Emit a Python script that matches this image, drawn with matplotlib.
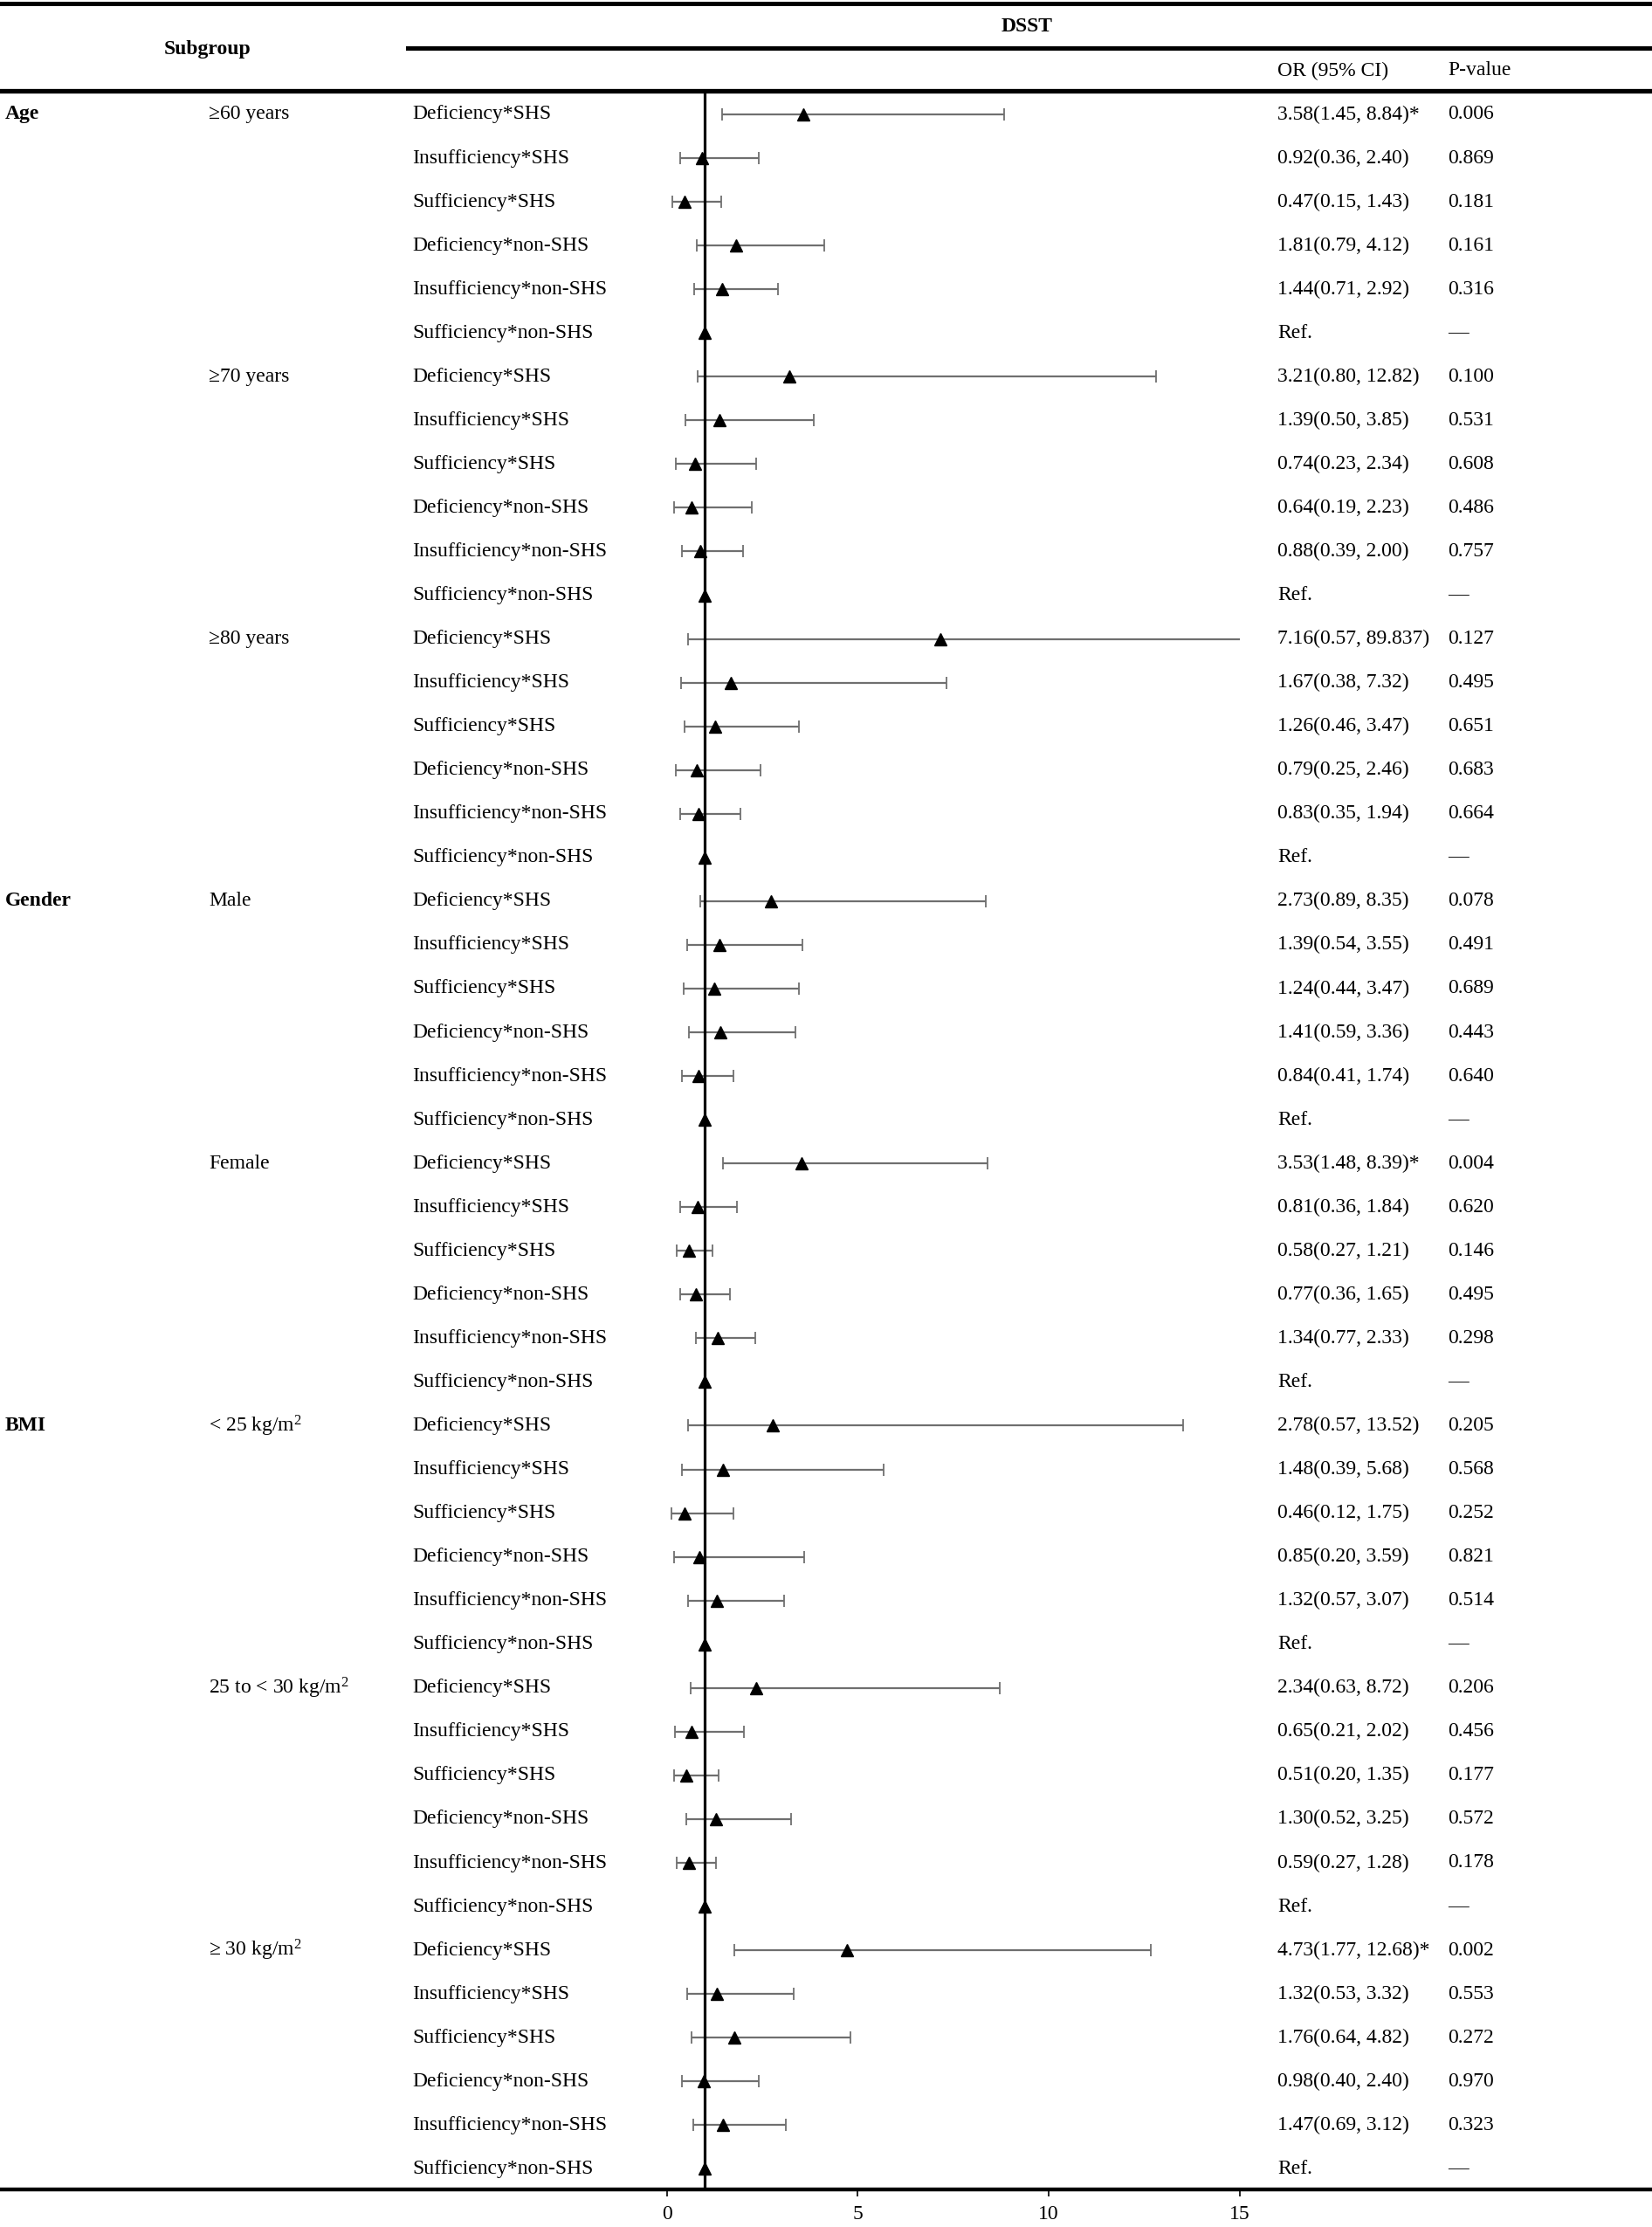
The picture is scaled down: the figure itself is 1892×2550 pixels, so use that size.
import matplotlib
matplotlib.use("Agg")
import matplotlib.pyplot as plt
import numpy as np
from matplotlib.transforms import blended_transform_factory

plt.rcParams['font.family'] = ['Liberation Serif', 'DejaVu Serif']
plt.rcParams['mathtext.fontset'] = 'custom'
plt.rcParams['mathtext.rm'] = 'Liberation Serif'
plt.rcParams['mathtext.it'] = 'Liberation Serif:italic'
plt.rcParams['mathtext.default'] = 'regular'

# ---------------- data ----------------
categories = ["Age", "Gender", "BMI"]
category_rows = [0, 18, 30]
subgroups = ["≥60 years", "≥70 years", "≥80 years", "Male", "Female",
             "< 25 kg/m$^2$", "25 to < 30 kg/m$^2$", "≥ 30 kg/m$^2$"]
row_labels = ["Deficiency*SHS", "Insufficiency*SHS", "Sufficiency*SHS",
              "Deficiency*non-SHS", "Insufficiency*non-SHS", "Sufficiency*non-SHS"]

or_vals = [3.58, 0.92, 0.47, 1.81, 1.44, 1.0,
           3.21, 1.39, 0.74, 0.64, 0.88, 1.0,
           7.16, 1.67, 1.26, 0.79, 0.83, 1.0,
           2.73, 1.39, 1.24, 1.41, 0.84, 1.0,
           3.53, 0.81, 0.58, 0.77, 1.34, 1.0,
           2.78, 1.48, 0.46, 0.85, 1.32, 1.0,
           2.34, 0.65, 0.51, 1.30, 0.59, 1.0,
           4.73, 1.32, 1.76, 0.98, 1.47, 1.0]
ci_low = [1.45, 0.36, 0.15, 0.79, 0.71, np.nan,
          0.80, 0.50, 0.23, 0.19, 0.39, np.nan,
          0.57, 0.38, 0.46, 0.25, 0.35, np.nan,
          0.89, 0.54, 0.44, 0.59, 0.41, np.nan,
          1.48, 0.36, 0.27, 0.36, 0.77, np.nan,
          0.57, 0.39, 0.12, 0.20, 0.57, np.nan,
          0.63, 0.21, 0.20, 0.52, 0.27, np.nan,
          1.77, 0.53, 0.64, 0.40, 0.69, np.nan]
ci_high = [8.84, 2.40, 1.43, 4.12, 2.92, np.nan,
           12.82, 3.85, 2.34, 2.23, 2.00, np.nan,
           89.837, 7.32, 3.47, 2.46, 1.94, np.nan,
           8.35, 3.55, 3.47, 3.36, 1.74, np.nan,
           8.39, 1.84, 1.21, 1.65, 2.33, np.nan,
           13.52, 5.68, 1.75, 3.59, 3.07, np.nan,
           8.72, 2.02, 1.35, 3.25, 1.28, np.nan,
           12.68, 3.32, 4.82, 2.40, 3.12, np.nan]
or_text = ["3.58(1.45, 8.84)*", "0.92(0.36, 2.40)", "0.47(0.15, 1.43)", "1.81(0.79, 4.12)", "1.44(0.71, 2.92)", "Ref.",
           "3.21(0.80, 12.82)", "1.39(0.50, 3.85)", "0.74(0.23, 2.34)", "0.64(0.19, 2.23)", "0.88(0.39, 2.00)", "Ref.",
           "7.16(0.57, 89.837)", "1.67(0.38, 7.32)", "1.26(0.46, 3.47)", "0.79(0.25, 2.46)", "0.83(0.35, 1.94)", "Ref.",
           "2.73(0.89, 8.35)", "1.39(0.54, 3.55)", "1.24(0.44, 3.47)", "1.41(0.59, 3.36)", "0.84(0.41, 1.74)", "Ref.",
           "3.53(1.48, 8.39)*", "0.81(0.36, 1.84)", "0.58(0.27, 1.21)", "0.77(0.36, 1.65)", "1.34(0.77, 2.33)", "Ref.",
           "2.78(0.57, 13.52)", "1.48(0.39, 5.68)", "0.46(0.12, 1.75)", "0.85(0.20, 3.59)", "1.32(0.57, 3.07)", "Ref.",
           "2.34(0.63, 8.72)", "0.65(0.21, 2.02)", "0.51(0.20, 1.35)", "1.30(0.52, 3.25)", "0.59(0.27, 1.28)", "Ref.",
           "4.73(1.77, 12.68)*", "1.32(0.53, 3.32)", "1.76(0.64, 4.82)", "0.98(0.40, 2.40)", "1.47(0.69, 3.12)", "Ref."]
p_text = ["0.006", "0.869", "0.181", "0.161", "0.316", "—",
          "0.100", "0.531", "0.608", "0.486", "0.757", "—",
          "0.127", "0.495", "0.651", "0.683", "0.664", "—",
          "0.078", "0.491", "0.689", "0.443", "0.640", "—",
          "0.004", "0.620", "0.146", "0.495", "0.298", "—",
          "0.205", "0.568", "0.252", "0.821", "0.514", "—",
          "0.206", "0.456", "0.177", "0.572", "0.178", "—",
          "0.002", "0.553", "0.272", "0.970", "0.323", "—"]
xticks = [0, 5, 10, 15]
x_max = 15

# ---------------- layout ----------------
W, H = 1892, 2550
x0px, pxper = 763.5, 43.75
row0, rowh = 131, 50.05

fig = plt.figure(figsize=(W / 100, H / 100), dpi=100)
ax = fig.add_axes([0, 0, 1, 1])
ax.set_xlim(-x0px / pxper, (W - x0px) / pxper)
ax.set_ylim((H - row0) / rowh, -row0 / rowh)


def py(p):
    return (p - row0) / rowh


trans = blended_transform_factory(fig.transFigure, ax.transData)
fs = 17

n = len(or_vals)
y = np.arange(n)
orv = np.array(or_vals)
lo = np.array(ci_low)
hi = np.array(ci_high)
has_ci = ~np.isnan(lo)

grey = '#6f6f6f'
full = has_ci & (hi <= x_max)
ax.errorbar(orv[full], y[full], xerr=[orv[full] - lo[full], hi[full] - orv[full]],
            fmt='none', ecolor=grey, elinewidth=1.6, capsize=4.8, capthick=1.3, zorder=3)
clipped = has_ci & (hi > x_max)
ax.hlines(y[clipped], lo[clipped], x_max, color=grey, lw=1.6, zorder=3)
ax.plot(lo[clipped], y[clipped], '|', color=grey, ms=9.6, mew=1.3, zorder=3)

# reference line
ax.vlines(1, py(104), py(2507), color='black', lw=2.3, zorder=4)
ax.plot(orv, y, '^', color='black', ms=10, mec='black', zorder=5)

# rules
ax.axhline(py(4.5), color='black', lw=3.6)
ax.axhline(py(55), xmin=467 / W, xmax=1, color='black', lw=3.6)
ax.axhline(py(104), color='black', lw=3.8)

# axis
for s in ['top', 'left', 'right']:
    ax.spines[s].set_visible(False)
ax.spines['bottom'].set_position(('data', py(2507)))
ax.spines['bottom'].set_linewidth(3.2)
ax.set_xticks(xticks)
ax.set_xticklabels([str(t) for t in xticks])
ax.set_yticks([])
ax.tick_params(axis='x', direction='out', length=6, width=1.2, labelsize=fs, pad=7)

# header texts
ax.text(238 / W, py(57), "Subgroup", transform=trans, ha='center', va='center',
        fontsize=fs, fontweight='bold')
ax.text(1176 / W, py(31), "DSST", transform=trans, ha='center', va='center',
        fontsize=fs, fontweight='bold')
ax.text(1463 / W, py(81), "OR (95% CI)", transform=trans, ha='left', va='center', fontsize=fs)
ax.text(1658 / W, py(81), "P-value", transform=trans, ha='left', va='center', fontsize=fs)

for c, r in zip(categories, category_rows):
    ax.text(6 / W, r, c, transform=trans, ha='left', va='center', fontsize=fs, fontweight='bold')
for i, s in enumerate(subgroups):
    ax.text(239 / W, i * 6, s, transform=trans, ha='left', va='center', fontsize=fs)
for i in range(n):
    ax.text(472 / W, i, row_labels[i % 6], transform=trans, ha='left', va='center', fontsize=fs)
    ax.text(1463 / W, i, or_text[i], transform=trans, ha='left', va='center', fontsize=fs)
    ax.text(1658 / W, i, p_text[i], transform=trans, ha='left', va='center', fontsize=fs)

fig.savefig("out.png", dpi=100)
